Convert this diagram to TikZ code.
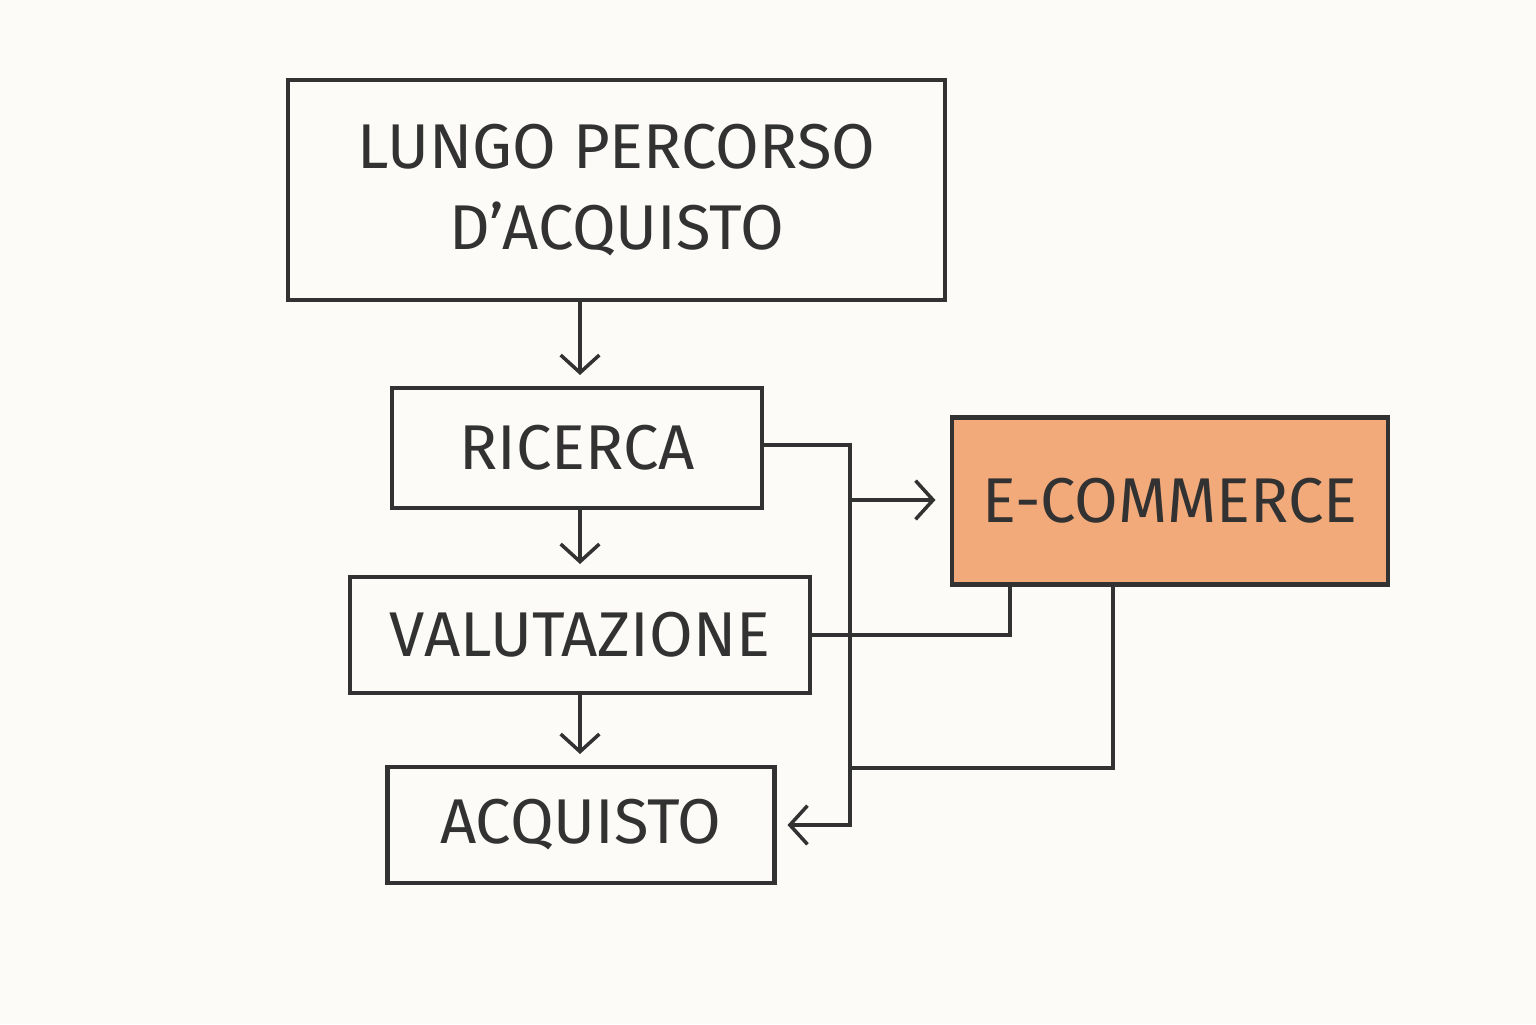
\documentclass[tikz,border=0pt]{standalone}
\usepackage{fontspec}
\setmainfont{Fira Sans}
\usepackage{color}
\definecolor{mypaper}{RGB}{252,251,248}
\definecolor{myink}{RGB}{50,50,50}
\definecolor{myorange}{RGB}{243,170,122}
\usetikzlibrary{arrows.meta,positioning,calc}
\tikzstyle{stage}=[draw=myink,line width=1.4pt,rectangle,inner sep=0pt,font=\fontsize{18}{23}\selectfont,text=myink,align=center]
\tikzstyle{link}=[draw=myink,line width=1pt]

\begin{document}
\begin{tikzpicture}[>={Straight Barb[length=5pt,width=11pt]}]
\useasboundingbox [fill=mypaper] (0,0) rectangle (15.36,10.24);
\node [stage, minimum width=6.57cm, minimum height=2.2cm] (lungo) at (6.165,8.34) {LUNGO PERCORSO\\D'ACQUISTO};
\node [stage, minimum width=3.7cm, minimum height=1.2cm] (ricerca) at (5.77,5.76) {RICERCA};
\node [stage, minimum width=4.6cm, minimum height=1.16cm] (valut) at (5.80,3.89) {VALUTAZIONE};
\node [stage, minimum width=3.87cm, minimum height=1.16cm] (acq) at (5.81,1.99) {ACQUISTO};
\node [stage, fill=myorange, minimum width=4.36cm, minimum height=1.67cm] (ecom) at (11.70,5.23) {E-COMMERCE};

% junction points
\coordinate (split) at (8.50,5.24);
\coordinate (join) at (8.50,2.56);
\coordinate (mid) at (5.80,0);
\coordinate (valin) at (10.10,0);
\coordinate (ecout) at (11.13,0);

\draw [link,->,shorten >=3pt] (lungo.south -| mid) -- (ricerca.north -| mid);
\draw [link,->,shorten >=3pt] (ricerca.south -| mid) -- (valut.north -| mid);
\draw [link,->,shorten >=3pt] (valut.south -| mid) -- (acq.north -| mid);
\draw [link,->,shorten >=3pt] ($(ricerca.east)+(0,0.03)$) -| (split) |- (acq.east);
\draw [link,->,shorten >=4pt] (split) -- (ecom.west |- split);
\draw [link] (valut.east) -| (ecom.south -| valin);
\draw [link] (ecom.south -| ecout) |- (join);
\end{tikzpicture}
\end{document}
